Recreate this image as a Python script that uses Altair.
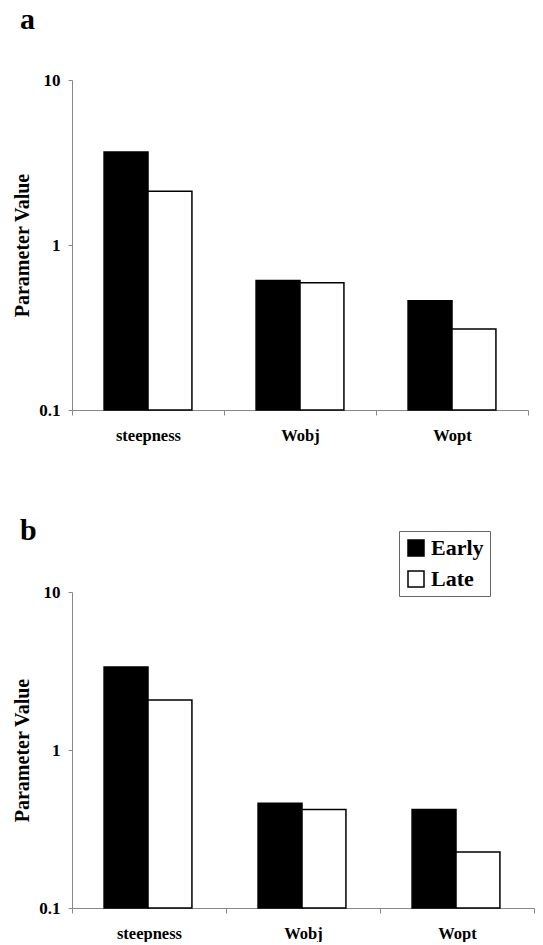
import altair as alt
import pandas as pd

categories = ["steepness", "Wobj", "Wopt"]
periods = ["Early", "Late"]
a_early = [3.66, 0.61, 0.46]
a_late = [2.12, 0.59, 0.31]
b_early = [3.35, 0.46, 0.42]
b_late = [2.07, 0.42, 0.226]
y_ticks = [0.1, 1, 10]

SERIF = "Liberation Serif"


def make_df(early, late):
    rows = []
    for c, e, l in zip(categories, early, late):
        rows.append({"param": c, "period": "Early", "value": e})
        rows.append({"param": c, "period": "Late", "value": l})
    return pd.DataFrame(rows)


def panel(df, label, width, height, legend, title_offset):
    return alt.Chart(df).mark_bar(stroke="black", strokeWidth=1.5).encode(
        x=alt.X("param:N", sort=categories,
                scale=alt.Scale(paddingInner=0, paddingOuter=0),
                axis=alt.Axis(title=None, labelAngle=0, tickBand="extent",
                              tickSize=5, labelPadding=12, labelFontSize=16.5,
                              labelFont=SERIF, labelFontWeight="bold",
                              labelColor="black", domainColor="#888",
                              tickColor="#888")),
        xOffset=alt.XOffset("period:N", sort=periods,
                            scale=alt.Scale(paddingOuter=0.73, paddingInner=0)),
        y=alt.Y("value:Q",
                scale=alt.Scale(type="log", domain=[0.1, 10]),
                axis=alt.Axis(title="Parameter Value", values=y_ticks, format="~g",
                              grid=False, tickSize=4, labelPadding=8,
                              labelFontSize=17, labelFont=SERIF,
                              labelFontWeight="bold", labelColor="black",
                              titleFont=SERIF, titleFontSize=20,
                              titleFontWeight="bold", titleColor="black",
                              titlePadding=6, domainColor="#888",
                              tickColor="#888")),
        y2=alt.datum(0.1),
        color=alt.Color("period:N", sort=periods,
                        scale=alt.Scale(domain=periods, range=["black", "white"]),
                        legend=legend),
    ).properties(
        width=width, height=height,
        title=alt.TitleParams(label, anchor="start", frame="group", dx=-52,
                              fontSize=30, font=SERIF, fontWeight="bold",
                              color="black", offset=title_offset),
    )


legend_b = alt.Legend(title=None, orient="none", legendX=327, legendY=-61,
                      symbolType="square", symbolSize=256,
                      symbolStrokeColor="black", symbolStrokeWidth=1.5,
                      labelFont=SERIF, labelFontSize=22, labelFontWeight="bold",
                      labelColor="black", strokeColor="#666", padding=6,
                      rowPadding=9, labelOffset=4, fillColor="white")

pa = panel(make_df(a_early, a_late), "a", 456, 330, None, 36)
pb = panel(make_df(b_early, b_late), "b", 462, 316, legend_b, -15)

chart = alt.vconcat(pa, pb, spacing=71).resolve_scale(
    color="independent").resolve_legend(color="independent").properties(
    padding={"left": 12, "top": 5, "right": 0, "bottom": 0}
).configure_view(stroke=None)

chart.save("out.html", embed_options={"renderer": "svg", "actions": False})
